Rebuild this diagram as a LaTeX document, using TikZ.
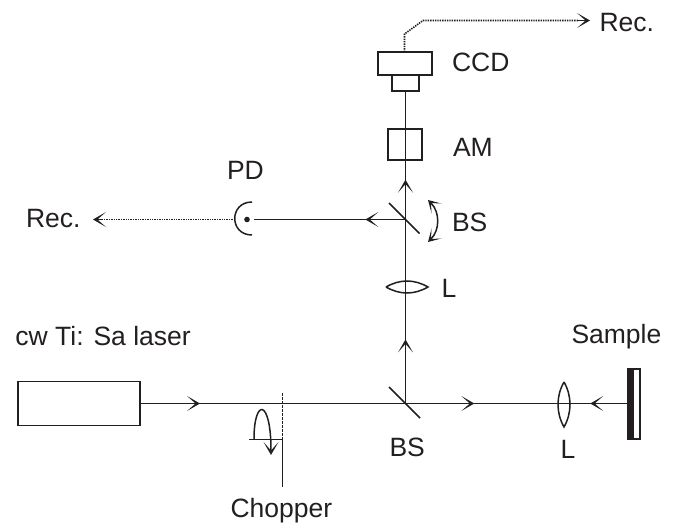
\documentclass[tikz,border=0pt]{standalone}
\usepackage{fontspec}
\setmainfont{Liberation Sans}
\usetikzlibrary{arrows.meta,decorations.markings}
\definecolor{ink}{RGB}{35,31,32}
\tikzset{
  every path/.style={line width=1.5pt},
  chev/.tip={Stealth[length=13pt,width=15pt,inset=8.6pt,line width=0pt]},
  chevs/.tip={Stealth[length=12pt,width=14pt,inset=7.8pt,line width=0pt]},
  lbl/.style={anchor=base west,inner sep=0pt,outer sep=0pt,text=ink,font=\fontsize{26.5}{26.5}\selectfont},
  box/.style={draw=ink,line width=1.5pt,inner sep=0pt,outer sep=0pt,rectangle},
  ln/.style={draw=ink},
  barb/.style={ln,-chev},
  dots/.style={ln,dash pattern=on 1.4pt off 1pt,line width=1.6pt},
  midtip/.style={ln,postaction={decorate},decoration={markings,mark=at position #1 with {\arrow[ink]{chev}}}},
}
\begin{document}
\begin{tikzpicture}[x=1pt,y=-1pt]
\useasboundingbox (0,0) rectangle (677,524);
% boxes
\node[box,minimum width=122pt,minimum height=44pt] (laser) at (79,403.5) {};
\node[box,minimum width=54pt,minimum height=23pt] (ccd) at (405,63.5) {};
\node[box,minimum width=27pt,minimum height=16pt] (ccdlens) at (405.5,83) {};
\node[box,minimum width=34pt,minimum height=31pt] (am) at (405,144.5) {};
\coordinate (bsa) at (405.5,403.5);
\coordinate (bsb) at (405.5,219.5);
\coordinate (lensa) at (564,403.5);
\coordinate (lensb) at (405.5,287);
\coordinate (pd) at (247,219.5);
\coordinate (chop) at (282.5,439.5);
% sample
\node[box,minimum width=12pt,minimum height=70pt] (sample) at (634,404) {};
\fill[ink] (628,369) rectangle (633.5,439);
% beams
\draw[midtip=0.226] (laser.east) -- (bsa);
\draw[midtip=0.434] (bsa) -- (lensa);
\draw[midtip=0.59] (sample.west |- bsa) -- (lensa);
\draw[midtip=0.55] (bsa) -- (lensb);
\draw[ln] (lensb) -- (bsb);
\draw[midtip=0.31] (bsb) -- (ccdlens.south);
\draw[midtip=0.265] (bsb) -- (254,219.5);
% beam splitters
\coordinate (bsa1) at (389,387); \coordinate (bsa2) at (420,418);
\coordinate (bsb1) at (389,203); \coordinate (bsb2) at (419.5,233.5);
\draw[ln] (bsa1) -- (bsa2);
\draw[ln] (bsb1) -- (bsb2);
% lenses
\coordinate (la1) at (564,382); \coordinate (la2) at (564,427);
\draw[ln] (la1) .. controls (556,396) and (556,413) .. (la2) .. controls (572,413) and (572,396) .. (la1);
\coordinate (lb1) at (386,287); \coordinate (lb2) at (428,287);
\draw[ln] (lb1) .. controls (400,279) and (414,279) .. (lb2) .. controls (414,295) and (400,295) .. (lb1);
% photodiode
\coordinate (pda) at (252,202); \coordinate (pdb) at (252,235);
\draw[ln] (pda) .. controls (229,202) and (229,235) .. (pdb);
\fill[ink] (pd) circle (2.8pt);
% rotation arrow
\coordinate (rota) at (428,200); \coordinate (rotb) at (428,242);
\draw[ln,chevs-chevs] (rota) .. controls (440,212) and (440,230) .. (rotb);
% chopper
\draw[ln,dash pattern=on 2.5pt off 1.5pt] (chop) -- (282.5,392);
\draw[ln] (chop) -- (282.5,487);
\draw[ln] (chop) -- (249,439.5);
\draw[barb] (254,439) .. controls (254,398) and (271,398) .. (271,455);
% signals
\coordinate (pdl) at (235,219.5);
\coordinate (recl) at (93,219.5);
\coordinate (recr) at (590,20.5);
\draw[dots] (pdl) -- (101,219.5);
\draw[barb] (103,219.5) -- (recl);
\draw[dots] (404.5,52) -- (404.5,34) -- (423,20.5) -- (578,20.5);
\draw[barb] (578,20.5) -- (recr);
% labels
\node[lbl] (tccd) at (452,72) {CCD};
\node[lbl] (tam) at (453,157) {AM};
\node[lbl] (trect) at (599.5,32) {Rec.};
\node[lbl] (trecl) at (26,227) {Rec.};
\node[lbl] (tpd) at (227,179) {PD};
\node[lbl] (tbsb) at (452,231) {BS};
\node[lbl] (tlb) at (441.5,297) {L};
\node[lbl] (tlaser) at (15.5,345) {cw Ti: Sa laser};
\node[lbl] (tsample) at (571.5,343) {Sample};
\node[lbl] (tbsa) at (389.5,456) {BS};
\node[lbl] (tla) at (560.5,458) {L};
\node[lbl] (tchop) at (230.5,517) {Chopper};
\end{tikzpicture}
\end{document}
